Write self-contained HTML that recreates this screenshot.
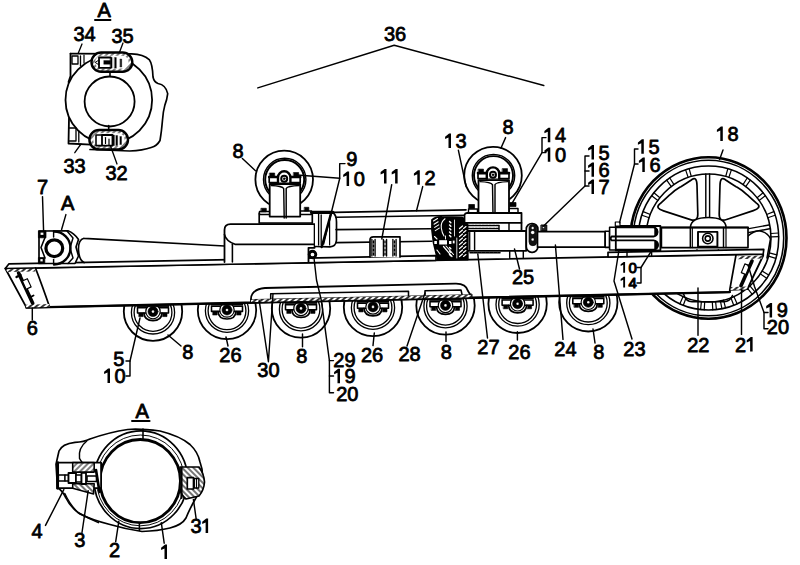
<!DOCTYPE html>
<html><head><meta charset="utf-8"><style>
html,body{margin:0;padding:0;background:#fff;}
svg{display:block;}
text{font-family:"Liberation Sans",sans-serif;font-weight:normal;fill:#000;stroke:#000;stroke-width:0.8px;}
</style></head><body>
<svg width="800" height="565" viewBox="0 0 800 565" stroke="#000" fill="none" stroke-linecap="round" stroke-linejoin="round">
<defs>
<pattern id="hatch" patternUnits="userSpaceOnUse" width="4" height="4" patternTransform="rotate(45)"><rect width="4" height="4" fill="#fff" stroke="none"/><line x1="2" y1="0" x2="2" y2="4" stroke="#000" stroke-width="1"/></pattern>
<pattern id="hatchb" patternUnits="userSpaceOnUse" width="4" height="4" patternTransform="rotate(-45)"><rect width="4" height="4" fill="#fff" stroke="none"/><line x1="2" y1="0" x2="2" y2="4" stroke="#000" stroke-width="1.1"/></pattern>
<pattern id="hatch2" patternUnits="userSpaceOnUse" width="3" height="3" patternTransform="rotate(45)"><rect width="3" height="3" fill="#fff" stroke="none"/><line x1="1.5" y1="0" x2="1.5" y2="3" stroke="#000" stroke-width="1.6"/></pattern>
<pattern id="hatch3" patternUnits="userSpaceOnUse" width="3.2" height="3.2" patternTransform="rotate(45)"><rect width="3.2" height="3.2" fill="#000" stroke="none"/><line x1="1.6" y1="0" x2="1.6" y2="3.2" stroke="#fff" stroke-width="1.1"/></pattern>
<pattern id="dash" patternUnits="userSpaceOnUse" width="4" height="4" patternTransform="rotate(50)"><rect width="4" height="4" fill="#fff" stroke="none"/><line x1="2" y1="0" x2="2" y2="4" stroke="#000" stroke-width="1.6"/></pattern>
</defs>
<text x="384.00" y="41.4" font-size="20">3</text>
<text x="395.12" y="41.4" font-size="20">6</text>
<polyline points="257.8,87.9 394.2,45.2 543.8,85.5" stroke-width="1.44" fill="none"/>
<text x="97.50" y="17.0" font-size="20">A</text>
<line x1="95.0" y1="20.0" x2="110.5" y2="20.0" stroke-width="1.92"/>
<text x="73.50" y="41.0" font-size="20">3</text>
<text x="84.62" y="41.0" font-size="20">4</text>
<text x="111.50" y="43.0" font-size="20">3</text>
<text x="122.62" y="43.0" font-size="20">5</text>
<line x1="82.0" y1="44.0" x2="77.5" y2="55.0" stroke-width="1.32"/>
<line x1="123.0" y1="43.0" x2="119.0" y2="53.6" stroke-width="1.32"/>
<path d="M70.5,53.6 L131.7,53.8 Q143.4,54.2 149.2,59.6 Q152.5,64 153,77 Q154,82 158,83.5 Q166,85 167.7,93.7 Q167,100 164.8,105.4 Q163,112 162.5,120 Q161.5,132 160,140.5 Q157,146 151.2,147.5 Q143,150.5 129.7,151 L90,149.5" stroke-width="1.68" fill="#fff" />
<circle cx="108.8" cy="100.0" r="43.3" stroke-width="1.80" fill="none"/>
<circle cx="109.6" cy="101.5" r="25.0" stroke-width="1.80" fill="none"/>
<path d="M70.5,53.6 L70.5,76 L68.5,82" stroke-width="1.80" fill="none" />
<path d="M72,56 L78,56 L78,64 L72,64 Z" stroke-width="1.32" fill="none" />
<line x1="80.5" y1="56.0" x2="80.5" y2="66.0" stroke-width="1.32"/>
<line x1="84.0" y1="55.0" x2="84.0" y2="63.0" stroke-width="1.20"/>
<path d="M69,118 L68.5,143.5 L91,144.6" stroke-width="1.80" fill="none" />
<path d="M69.5,128 L76,128 L76,141 L69.5,141" stroke-width="1.32" fill="none" />
<line x1="78.8" y1="131.0" x2="78.8" y2="142.0" stroke-width="1.32"/>
<rect x="91.5" y="52.5" width="40.8" height="19.3" rx="9.6" stroke-width="2.40" fill="url(#hatch)"/>
<rect x="95.3" y="55.8" width="33.2" height="12.7" rx="6.2" fill="#fff" stroke="none"/>
<path d="M110.5,57.5 L99,57.5 L99,67.8 L110.5,67.8" stroke-width="1.80" fill="none" />
<rect x="104.0" y="60.6" width="6.5" height="3.6" rx="0" stroke-width="0.48" fill="#000"/>
<rect x="110.3" y="57.3" width="1.8" height="10.8" rx="0" stroke-width="0.36" fill="#000"/>
<rect x="114.6" y="57.5" width="1.7" height="10.5" rx="0" stroke-width="0.36" fill="#000"/>
<rect x="120.2" y="59.0" width="1.5" height="8.0" rx="0" stroke-width="0.36" fill="#000"/>
<path d="M95.5,62.2 L99,60 L99,64.5 Z" stroke-width="0.96" fill="none" />
<rect x="89.4" y="130.0" width="38.6" height="19.4" rx="9.7" stroke-width="2.40" fill="url(#hatch)"/>
<rect x="93.2" y="133.3" width="31.4" height="12.8" rx="6.2" fill="#fff" stroke="none"/>
<path d="M101.5,135 L96,135 L96,145.6 L101.5,145.6" stroke-width="1.56" fill="none" />
<rect x="102.0" y="135.0" width="10.5" height="10.6" rx="0" stroke-width="1.80" fill="#fff"/>
<rect x="112.8" y="135.0" width="1.6" height="10.6" rx="0" stroke-width="0.36" fill="#000"/>
<rect x="116.0" y="135.5" width="1.6" height="10.0" rx="0" stroke-width="0.36" fill="#000"/>
<rect x="120.0" y="136.5" width="1.5" height="8.0" rx="0" stroke-width="0.36" fill="#000"/>
<line x1="105.5" y1="137.5" x2="105.5" y2="143.5" stroke-width="1.20"/>
<line x1="109.0" y1="139.0" x2="109.0" y2="145.5" stroke-width="1.20"/>
<line x1="110.0" y1="72.0" x2="110.0" y2="76.5" stroke-width="1.56"/>
<line x1="108.7" y1="125.5" x2="108.7" y2="130.0" stroke-width="1.56"/>
<text x="63.50" y="173.2" font-size="20">3</text>
<text x="74.62" y="173.2" font-size="20">3</text>
<text x="105.50" y="180.0" font-size="20">3</text>
<text x="116.62" y="180.0" font-size="20">2</text>
<line x1="74.8" y1="152.7" x2="81.0" y2="144.0" stroke-width="1.32"/>
<line x1="117.0" y1="164.0" x2="110.7" y2="146.5" stroke-width="1.32"/>
<ellipse cx="708.5" cy="238.0" rx="78.0" ry="80.7" stroke-width="2.64" fill="#fff"/>
<ellipse cx="708.5" cy="238.0" rx="75.2" ry="77.8" stroke-width="1.56" fill="none"/>
<ellipse cx="708.5" cy="238.0" rx="70.2" ry="72.0" stroke-width="1.56" fill="none"/>
<ellipse cx="708.5" cy="238.0" rx="62.5" ry="64.0" stroke-width="1.56" fill="none"/>
<line x1="720.4" y1="300.8" x2="721.9" y2="308.7" stroke-width="1.20"/>
<line x1="723.6" y1="300.1" x2="725.5" y2="307.9" stroke-width="1.20"/>
<line x1="701.4" y1="301.6" x2="700.6" y2="309.5" stroke-width="1.20"/>
<line x1="704.7" y1="301.9" x2="704.2" y2="309.9" stroke-width="1.20"/>
<line x1="683.1" y1="296.5" x2="679.9" y2="303.8" stroke-width="1.20"/>
<line x1="686.1" y1="297.7" x2="683.3" y2="305.2" stroke-width="1.20"/>
<line x1="667.1" y1="285.9" x2="662.0" y2="291.9" stroke-width="1.20"/>
<line x1="669.6" y1="288.1" x2="664.8" y2="294.3" stroke-width="1.20"/>
<line x1="654.9" y1="271.0" x2="648.3" y2="275.1" stroke-width="1.20"/>
<line x1="656.7" y1="273.8" x2="650.3" y2="278.3" stroke-width="1.20"/>
<line x1="647.7" y1="252.9" x2="640.2" y2="254.8" stroke-width="1.20"/>
<line x1="648.6" y1="256.2" x2="641.2" y2="258.4" stroke-width="1.20"/>
<line x1="646.2" y1="233.5" x2="638.5" y2="233.0" stroke-width="1.20"/>
<line x1="646.0" y1="236.9" x2="638.3" y2="236.7" stroke-width="1.20"/>
<line x1="650.3" y1="214.5" x2="643.2" y2="211.6" stroke-width="1.20"/>
<line x1="649.2" y1="217.7" x2="641.9" y2="215.2" stroke-width="1.20"/>
<line x1="659.9" y1="197.7" x2="653.9" y2="192.7" stroke-width="1.20"/>
<line x1="657.9" y1="200.4" x2="651.7" y2="195.7" stroke-width="1.20"/>
<line x1="674.0" y1="184.6" x2="669.8" y2="178.0" stroke-width="1.20"/>
<line x1="671.3" y1="186.6" x2="666.7" y2="180.1" stroke-width="1.20"/>
<line x1="691.3" y1="176.5" x2="689.2" y2="168.8" stroke-width="1.20"/>
<line x1="688.2" y1="177.5" x2="685.6" y2="169.9" stroke-width="1.20"/>
<line x1="728.8" y1="177.5" x2="731.4" y2="169.9" stroke-width="1.20"/>
<line x1="725.7" y1="176.5" x2="727.8" y2="168.8" stroke-width="1.20"/>
<line x1="745.7" y1="186.6" x2="750.3" y2="180.1" stroke-width="1.20"/>
<line x1="743.0" y1="184.6" x2="747.2" y2="178.0" stroke-width="1.20"/>
<line x1="759.1" y1="200.4" x2="765.3" y2="195.7" stroke-width="1.20"/>
<line x1="757.1" y1="197.7" x2="763.1" y2="192.7" stroke-width="1.20"/>
<line x1="767.8" y1="217.7" x2="775.1" y2="215.2" stroke-width="1.20"/>
<line x1="766.7" y1="214.5" x2="773.8" y2="211.6" stroke-width="1.20"/>
<line x1="771.0" y1="236.9" x2="778.7" y2="236.7" stroke-width="1.20"/>
<line x1="770.8" y1="233.5" x2="778.5" y2="233.0" stroke-width="1.20"/>
<line x1="768.4" y1="256.2" x2="775.8" y2="258.4" stroke-width="1.20"/>
<line x1="769.3" y1="252.9" x2="776.8" y2="254.8" stroke-width="1.20"/>
<line x1="760.3" y1="273.8" x2="766.7" y2="278.3" stroke-width="1.20"/>
<line x1="762.1" y1="271.0" x2="768.7" y2="275.1" stroke-width="1.20"/>
<line x1="747.4" y1="288.1" x2="752.2" y2="294.3" stroke-width="1.20"/>
<line x1="749.9" y1="285.9" x2="755.0" y2="291.9" stroke-width="1.20"/>
<line x1="730.9" y1="297.7" x2="733.7" y2="305.2" stroke-width="1.20"/>
<line x1="733.9" y1="296.5" x2="737.1" y2="303.8" stroke-width="1.20"/>
<line x1="712.3" y1="301.9" x2="712.8" y2="309.9" stroke-width="1.20"/>
<line x1="715.6" y1="301.6" x2="716.4" y2="309.5" stroke-width="1.20"/>
<line x1="709.6" y1="222.0" x2="709.6" y2="174.0" stroke-width="1.44"/>
<line x1="705.8" y1="222.0" x2="705.8" y2="174.0" stroke-width="1.44"/>
<line x1="692.5" y1="234.0" x2="646.0" y2="227.7" stroke-width="1.44"/>
<line x1="692.0" y1="237.8" x2="645.5" y2="231.4" stroke-width="1.44"/>
<line x1="723.4" y1="237.1" x2="769.6" y2="228.8" stroke-width="1.44"/>
<line x1="722.8" y1="233.4" x2="768.9" y2="225.0" stroke-width="1.44"/>
<line x1="697.0" y1="249.8" x2="669.4" y2="288.7" stroke-width="1.44"/>
<line x1="700.1" y1="252.1" x2="672.5" y2="290.9" stroke-width="1.44"/>
<line x1="715.3" y1="252.1" x2="742.9" y2="290.9" stroke-width="1.44"/>
<line x1="718.4" y1="249.8" x2="746.0" y2="288.7" stroke-width="1.44"/>
<path d="M697.8,214.0 Q698.0,222.0 690.4,219.6 L663.5,210.9 Q654.9,208.2 659.5,204.2 L660.5,203.3 Q665.1,199.3 669.4,195.2 L670.4,194.3 Q674.7,190.3 679.8,187.3 L680.9,186.7 Q686.0,183.7 690.9,180.3 L691.9,179.5 Q696.8,176.2 697.0,185.2 Z" stroke-width="1.68" fill="#fff" />
<path d="M726.6,219.5 Q719.0,222.0 719.2,214.0 L720.0,185.2 Q720.2,176.2 725.1,179.5 L726.1,180.3 Q731.0,183.7 736.1,186.7 L737.2,187.3 Q742.3,190.3 746.6,194.3 L747.6,195.2 Q751.9,199.3 756.4,203.1 L757.4,203.9 Q761.8,207.7 753.3,210.6 Z" stroke-width="1.68" fill="#fff" />
<path d="M748,236 Q754,230.5 760,231 Q768,232.5 770.5,239 L767,258" stroke-width="1.56" fill="#fff" />
<path d="M648,236 Q656,231 664,232" stroke-width="1.44" fill="none" />
<path d="M683.5,294 Q686,301.8 692,301.8 L724,301.8 Q730,301.5 732.5,295.5" stroke-width="1.56" fill="none" />
<path d="M690.5,227 Q691,217.5 708.3,217.5 Q725.5,217.5 726,227" stroke-width="1.56" fill="#fff" />
<circle cx="153.0" cy="311.6" r="29.2" stroke-width="1.80" fill="#fff"/>
<circle cx="153.0" cy="312.4" r="21.6" stroke-width="1.32" fill="none"/>
<circle cx="153.0" cy="312.4" r="18.9" stroke-width="1.32" fill="none"/>
<rect x="137.5" y="307.8" width="31.0" height="5.2" rx="0" stroke-width="1.56" fill="#fff"/>
<rect x="139.0" y="313.0" width="4.2" height="3.6" rx="0" stroke-width="0.60" fill="#000"/>
<rect x="162.8" y="313.0" width="4.2" height="3.6" rx="0" stroke-width="0.60" fill="#000"/>
<path d="M144,313.1 Q144.5,320.6 153,320.6 Q161.5,320.6 162,313.1" stroke-width="1.68" fill="none" />
<circle cx="153.0" cy="311.6" r="7.2" stroke-width="1.20" fill="#fff"/>
<circle cx="153.0" cy="311.6" r="5.0" stroke-width="0.60" fill="#000"/>
<circle cx="153.0" cy="311.6" r="1.3" stroke-width="0.12" fill="#fff"/>
<rect x="137.0" y="305.3" width="32.0" height="1.6" rx="0" stroke-width="0.48" fill="#000"/>
<circle cx="227.0" cy="310.0" r="29.2" stroke-width="1.80" fill="#fff"/>
<circle cx="227.0" cy="310.8" r="21.6" stroke-width="1.32" fill="none"/>
<circle cx="227.0" cy="310.8" r="18.9" stroke-width="1.32" fill="none"/>
<rect x="211.5" y="306.2" width="31.0" height="5.2" rx="0" stroke-width="1.56" fill="#fff"/>
<rect x="213.0" y="311.4" width="4.2" height="3.6" rx="0" stroke-width="0.60" fill="#000"/>
<rect x="236.8" y="311.4" width="4.2" height="3.6" rx="0" stroke-width="0.60" fill="#000"/>
<path d="M218,311.52380000000005 Q218.5,319.02380000000005 227,319.02380000000005 Q235.5,319.02380000000005 236,311.52380000000005" stroke-width="1.68" fill="none" />
<circle cx="227.0" cy="310.0" r="7.2" stroke-width="1.20" fill="#fff"/>
<circle cx="227.0" cy="310.0" r="5.0" stroke-width="0.60" fill="#000"/>
<circle cx="227.0" cy="310.0" r="1.3" stroke-width="0.12" fill="#fff"/>
<rect x="211.0" y="303.7" width="32.0" height="1.6" rx="0" stroke-width="0.48" fill="#000"/>
<circle cx="301.0" cy="308.4" r="29.2" stroke-width="1.80" fill="#fff"/>
<circle cx="301.0" cy="309.2" r="21.6" stroke-width="1.32" fill="none"/>
<circle cx="301.0" cy="309.2" r="18.9" stroke-width="1.32" fill="none"/>
<rect x="285.5" y="304.6" width="31.0" height="5.2" rx="0" stroke-width="1.56" fill="#fff"/>
<rect x="287.0" y="309.8" width="4.2" height="3.6" rx="0" stroke-width="0.60" fill="#000"/>
<rect x="310.8" y="309.8" width="4.2" height="3.6" rx="0" stroke-width="0.60" fill="#000"/>
<path d="M292,309.9476 Q292.5,317.4476 301,317.4476 Q309.5,317.4476 310,309.9476" stroke-width="1.68" fill="none" />
<circle cx="301.0" cy="308.4" r="7.2" stroke-width="1.20" fill="#fff"/>
<circle cx="301.0" cy="308.4" r="5.0" stroke-width="0.60" fill="#000"/>
<circle cx="301.0" cy="308.4" r="1.3" stroke-width="0.12" fill="#fff"/>
<rect x="285.0" y="302.1" width="32.0" height="1.6" rx="0" stroke-width="0.48" fill="#000"/>
<circle cx="373.0" cy="306.9" r="29.2" stroke-width="1.80" fill="#fff"/>
<circle cx="373.0" cy="307.7" r="21.6" stroke-width="1.32" fill="none"/>
<circle cx="373.0" cy="307.7" r="18.9" stroke-width="1.32" fill="none"/>
<rect x="357.5" y="303.1" width="31.0" height="5.2" rx="0" stroke-width="1.56" fill="#fff"/>
<rect x="359.0" y="308.3" width="4.2" height="3.6" rx="0" stroke-width="0.60" fill="#000"/>
<rect x="382.8" y="308.3" width="4.2" height="3.6" rx="0" stroke-width="0.60" fill="#000"/>
<path d="M364,308.41400000000004 Q364.5,315.91400000000004 373,315.91400000000004 Q381.5,315.91400000000004 382,308.41400000000004" stroke-width="1.68" fill="none" />
<circle cx="373.0" cy="306.9" r="7.2" stroke-width="1.20" fill="#fff"/>
<circle cx="373.0" cy="306.9" r="5.0" stroke-width="0.60" fill="#000"/>
<circle cx="373.0" cy="306.9" r="1.3" stroke-width="0.12" fill="#fff"/>
<rect x="357.0" y="300.6" width="32.0" height="1.6" rx="0" stroke-width="0.48" fill="#000"/>
<circle cx="445.5" cy="305.4" r="29.2" stroke-width="1.80" fill="#fff"/>
<circle cx="445.5" cy="306.2" r="21.6" stroke-width="1.32" fill="none"/>
<circle cx="445.5" cy="306.2" r="18.9" stroke-width="1.32" fill="none"/>
<rect x="430.0" y="301.6" width="31.0" height="5.2" rx="0" stroke-width="1.56" fill="#fff"/>
<rect x="431.5" y="306.8" width="4.2" height="3.6" rx="0" stroke-width="0.60" fill="#000"/>
<rect x="455.3" y="306.8" width="4.2" height="3.6" rx="0" stroke-width="0.60" fill="#000"/>
<path d="M436.5,306.86975 Q437.0,314.36975 445.5,314.36975 Q454.0,314.36975 454.5,306.86975" stroke-width="1.68" fill="none" />
<circle cx="445.5" cy="305.4" r="7.2" stroke-width="1.20" fill="#fff"/>
<circle cx="445.5" cy="305.4" r="5.0" stroke-width="0.60" fill="#000"/>
<circle cx="445.5" cy="305.4" r="1.3" stroke-width="0.12" fill="#fff"/>
<rect x="429.5" y="299.1" width="32.0" height="1.6" rx="0" stroke-width="0.48" fill="#000"/>
<circle cx="517.6" cy="303.8" r="29.2" stroke-width="1.80" fill="#fff"/>
<circle cx="517.6" cy="304.6" r="21.6" stroke-width="1.32" fill="none"/>
<circle cx="517.6" cy="304.6" r="18.9" stroke-width="1.32" fill="none"/>
<rect x="502.1" y="300.0" width="31.0" height="5.2" rx="0" stroke-width="1.56" fill="#fff"/>
<rect x="503.6" y="305.2" width="4.2" height="3.6" rx="0" stroke-width="0.60" fill="#000"/>
<rect x="527.4" y="305.2" width="4.2" height="3.6" rx="0" stroke-width="0.60" fill="#000"/>
<path d="M508.6,305.33402 Q509.1,312.83402 517.6,312.83402 Q526.1,312.83402 526.6,305.33402" stroke-width="1.68" fill="none" />
<circle cx="517.6" cy="303.8" r="7.2" stroke-width="1.20" fill="#fff"/>
<circle cx="517.6" cy="303.8" r="5.0" stroke-width="0.60" fill="#000"/>
<circle cx="517.6" cy="303.8" r="1.3" stroke-width="0.12" fill="#fff"/>
<rect x="501.6" y="297.5" width="32.0" height="1.6" rx="0" stroke-width="0.48" fill="#000"/>
<circle cx="588.3" cy="302.3" r="29.2" stroke-width="1.80" fill="#fff"/>
<circle cx="588.3" cy="303.1" r="21.6" stroke-width="1.32" fill="none"/>
<circle cx="588.3" cy="303.1" r="18.9" stroke-width="1.32" fill="none"/>
<rect x="572.8" y="298.5" width="31.0" height="5.2" rx="0" stroke-width="1.56" fill="#fff"/>
<rect x="574.3" y="303.7" width="4.2" height="3.6" rx="0" stroke-width="0.60" fill="#000"/>
<rect x="598.1" y="303.7" width="4.2" height="3.6" rx="0" stroke-width="0.60" fill="#000"/>
<path d="M579.3,303.82811000000004 Q579.8,311.32811000000004 588.3,311.32811000000004 Q596.8,311.32811000000004 597.3,303.82811000000004" stroke-width="1.68" fill="none" />
<circle cx="588.3" cy="302.3" r="7.2" stroke-width="1.20" fill="#fff"/>
<circle cx="588.3" cy="302.3" r="5.0" stroke-width="0.60" fill="#000"/>
<circle cx="588.3" cy="302.3" r="1.3" stroke-width="0.12" fill="#fff"/>
<rect x="572.3" y="296.0" width="32.0" height="1.6" rx="0" stroke-width="0.48" fill="#000"/>
<polygon points="5.3,268.5 763.2,254.0 763.2,255.5 753.0,277.0 747.5,289.2 729.8,289.8 729.8,292.1 26.5,307.6" stroke-width="1.80" fill="#fff"/>
<polygon points="9.0,263.8 436.0,255.7 436.0,260.3 5.3,268.5" stroke-width="1.68" fill="#fff"/>
<polygon points="608.0,252.4 763.8,249.4 763.2,254.0 608.0,257.0" stroke-width="1.68" fill="#fff"/>
<line x1="26.5" y1="307.6" x2="729.8" y2="292.1" stroke-width="2.40"/>
<path d="M35.4,267.918448 Q42,285 49.6,307.08949" stroke-width="1.68" fill="none" />
<polygon points="6,269.28087 35,268.72610000000003 35.5,271.52610000000004 7.3,272.06174000000004" fill="url(#dash)" stroke="none"/>
<polygon points="25,304.63315 50,304.08065000000005 50,307.08065000000005 26.5,307.6" fill="url(#dash)" stroke="none"/>
<line x1="18.6" y1="273.0" x2="32.7" y2="303.2" stroke-width="3.60"/>
<line x1="16.5" y1="277.0" x2="20.5" y2="275.0" stroke-width="2.40"/>
<line x1="29.8" y1="297.5" x2="33.5" y2="295.5" stroke-width="1.92"/>
<rect x="24" y="279.5" width="5.5" height="9" transform="rotate(-25 26.7 284)" fill="#fff" stroke="#000" stroke-width="1.2"/>
<path d="M736,255 L729.8,289.5" stroke-width="1.68" fill="none" />
<polygon points="738,256.2 762.5,255.6 762,258.6 737.5,259.2" fill="url(#dash)" stroke="none"/>
<polygon points="731,287 747.5,286.5 747,289.5 730.5,290" fill="url(#dash)" stroke="none"/>
<line x1="752.0" y1="261.0" x2="741.0" y2="285.7" stroke-width="3.60"/>
<rect x="743" y="264.5" width="5" height="9.5" transform="rotate(22 745.5 269)" fill="#fff" stroke="#000" stroke-width="1.2"/>
<polygon points="251,299.03855 472,294.15445 472,297.75445 251,302.63855" fill="url(#dash)" stroke="#000" stroke-width="1"/>
<path d="M251,299.03855 Q251,289.5 265,288 L455,283.6 Q466,283.2 468,291 L470,294.19865" stroke-width="1.80" fill="#fff" />
<path d="M270.7,298.60318 L270.7,293.8 L408.5,291.2 L408.5,295.5578" stroke-width="1.56" fill="none" />
<path d="M425,295.19315 L425,290.7 L461,290 L462,294.37545" stroke-width="1.56" fill="none" />
<circle cx="284.2" cy="179.5" r="28.8" stroke-width="1.80" fill="#fff"/>
<circle cx="284.7" cy="179.5" r="21.2" stroke-width="1.44" fill="none"/>
<circle cx="284.7" cy="179.5" r="19.5" stroke-width="1.92" fill="none"/>
<rect x="259.2" y="213.0" width="53.1" height="10.0" rx="0" stroke-width="1.68" fill="#fff"/>
<rect x="259.5" y="211.5" width="10.5" height="3.0" rx="0" stroke-width="1.44" fill="#fff"/>
<rect x="300.0" y="211.0" width="11.5" height="3.5" rx="0" stroke-width="1.44" fill="#fff"/>
<rect x="261.3" y="208.3" width="5.0" height="3.5" rx="0" stroke-width="0.72" fill="#000"/>
<rect x="304.6" y="207.3" width="4.2" height="3.7" rx="0" stroke-width="0.72" fill="#000"/>
<path d="M269.7,184.0 L300.2,184.0 L300.2,216.6 L269.7,216.6 Z" stroke-width="1.80" fill="#fff" />
<path d="M271.2,185.5 Q282.2,186.0 283.7,188.5 L284.2,218.1 M299.2,185.5 Q287.2,186.0 286.2,188.5 L286.2,218.1" stroke-width="1.44" fill="none" />
<rect x="269.2" y="177.0" width="31.0" height="5.5" rx="0" stroke-width="1.68" fill="#fff"/>
<rect x="269.7" y="173.0" width="5.0" height="4.2" rx="0" stroke-width="0.60" fill="#000"/>
<rect x="293.7" y="172.5" width="5.0" height="4.2" rx="0" stroke-width="0.60" fill="#000"/>
<line x1="269.2" y1="177.0" x2="300.2" y2="177.0" stroke-width="2.64"/>
<path d="M278.0,182.5 L278.0,177.5 A6.2,6.2 0 0 1 290.4,177.5 L290.4,182.5" stroke-width="2.40" fill="#fff" />
<circle cx="284.2" cy="178.7" r="3.0" stroke-width="1.92" fill="#fff"/>
<circle cx="284.2" cy="178.7" r="1.0" stroke-width="0.60" fill="#000"/>
<circle cx="493.0" cy="175.6" r="28.8" stroke-width="1.80" fill="#fff"/>
<circle cx="493.5" cy="175.6" r="21.2" stroke-width="1.44" fill="none"/>
<circle cx="493.5" cy="175.6" r="19.5" stroke-width="1.92" fill="none"/>
<rect x="468.5" y="209.0" width="9.0" height="4.0" rx="0" stroke-width="1.44" fill="#fff"/>
<rect x="509.0" y="208.5" width="9.0" height="4.5" rx="0" stroke-width="1.44" fill="#fff"/>
<rect x="469.0" y="204.5" width="5.5" height="4.0" rx="0" stroke-width="0.72" fill="#000"/>
<rect x="510.0" y="202.5" width="6.0" height="4.0" rx="0" stroke-width="0.72" fill="#000"/>
<path d="M478.5,180.1 L509,180.1 L509,213.5 L478.5,213.5 Z" stroke-width="1.80" fill="#fff" />
<path d="M480,181.6 Q491,182.1 492.5,184.6 L493,215.0 M508,181.6 Q496,182.1 495,184.6 L495,215.0" stroke-width="1.44" fill="none" />
<rect x="478.0" y="173.1" width="31.0" height="5.5" rx="0" stroke-width="1.68" fill="#fff"/>
<rect x="478.5" y="169.1" width="5.0" height="4.2" rx="0" stroke-width="0.60" fill="#000"/>
<rect x="502.5" y="168.6" width="5.0" height="4.2" rx="0" stroke-width="0.60" fill="#000"/>
<line x1="478.0" y1="173.1" x2="509.0" y2="173.1" stroke-width="2.64"/>
<path d="M486.8,178.6 L486.8,173.6 A6.2,6.2 0 0 1 499.2,173.6 L499.2,178.6" stroke-width="2.40" fill="#fff" />
<circle cx="493.0" cy="174.8" r="3.0" stroke-width="1.92" fill="#fff"/>
<circle cx="493.0" cy="174.8" r="1.0" stroke-width="0.60" fill="#000"/>
<path d="M84,238.3 L224.5,246 M84,238.3 Q78,240 78.5,250 Q79,260 84,262.5" stroke-width="1.68" fill="none" />
<path d="M39,231 L68,230.8 Q74,233 78.5,239.5 L76,247 L78.5,256 L75,263.5 L39,263.5 Z" stroke-width="1.68" fill="#fff" />
<path d="M45,237.5 L41,247.5 L45,258" stroke-width="1.56" fill="none" />
<rect x="38.8" y="230.8" width="7.2" height="7.0" rx="0" stroke-width="0.72" fill="#000"/>
<rect x="40.5" y="232.5" width="3.0" height="2.5" rx="0" stroke-width="0.24" fill="#fff"/>
<rect x="38.8" y="257.5" width="6.0" height="6.0" rx="0" stroke-width="0.72" fill="#000"/>
<rect x="40.3" y="259.0" width="2.5" height="2.5" rx="0" stroke-width="0.24" fill="#fff"/>
<path d="M50,231.5 A16.5,16.5 0 0 1 50,264.5" stroke-width="2.40" fill="none" transform="translate(4,0)"/>
<circle cx="54.3" cy="248.2" r="8.4" stroke-width="3.24" fill="#fff"/>
<line x1="53.6" y1="231.0" x2="53.6" y2="237.0" stroke-width="1.44"/>
<line x1="53.6" y1="259.5" x2="53.6" y2="263.5" stroke-width="1.44"/>
<path d="M67,231 L73,238 L70,248 L73,258 L68,263.5" stroke-width="1.44" fill="none" />
<path d="M224.5,262 L224.5,230 Q224.5,224.1 230.5,224.1 L314.6,224.1 L314.6,247.8 L308.5,247.8 L308.5,262" stroke-width="1.80" fill="#fff" />
<path d="M224.5,234.6 Q226,241 235,244.3 L314.6,244.3" stroke-width="1.68" fill="none" />
<line x1="232.4" y1="244.3" x2="232.4" y2="262.0" stroke-width="1.56"/>
<path d="M315,212.4 L332,212.4 Q336.5,214 336.5,222 L336.5,240 Q336,246.5 330,246.8 L315,246.5" stroke-width="1.68" fill="#fff" />
<line x1="311.5" y1="212.4" x2="333.0" y2="212.4" stroke-width="3.12"/>
<line x1="318.6" y1="214.0" x2="318.6" y2="245.0" stroke-width="1.32"/>
<line x1="321.2" y1="215.0" x2="321.2" y2="245.0" stroke-width="1.32"/>
<line x1="329.6" y1="216.0" x2="329.6" y2="245.0" stroke-width="1.20"/>
<line x1="331.0" y1="213.6" x2="321.7" y2="247.0" stroke-width="2.40"/>
<circle cx="312.5" cy="254.5" r="3.3" stroke-width="2.88" fill="#fff"/>
<line x1="334.0" y1="212.4" x2="466.0" y2="209.8" stroke-width="1.68"/>
<line x1="336.0" y1="217.2" x2="466.0" y2="215.2" stroke-width="1.56"/>
<line x1="336.0" y1="229.6" x2="432.0" y2="228.8" stroke-width="1.56"/>
<line x1="336.0" y1="242.6" x2="432.0" y2="241.3" stroke-width="1.56"/>
<path d="M370,257 L370,240 Q370,236.8 373.5,236.8 L400,236.8 L400,257" stroke-width="1.68" fill="#fff" />
<line x1="371.9" y1="239.5" x2="371.9" y2="256.0" stroke-width="1.32"/>
<line x1="375.1" y1="239.5" x2="375.1" y2="256.0" stroke-width="1.32"/>
<line x1="373.5" y1="241.0" x2="373.5" y2="243.0" stroke-width="1.44"/>
<line x1="373.5" y1="245.0" x2="373.5" y2="247.0" stroke-width="1.44"/>
<line x1="373.5" y1="249.0" x2="373.5" y2="251.0" stroke-width="1.44"/>
<line x1="373.5" y1="253.0" x2="373.5" y2="255.0" stroke-width="1.44"/>
<line x1="383.4" y1="239.5" x2="383.4" y2="256.0" stroke-width="1.32"/>
<line x1="386.6" y1="239.5" x2="386.6" y2="256.0" stroke-width="1.32"/>
<line x1="385.0" y1="241.0" x2="385.0" y2="243.0" stroke-width="1.44"/>
<line x1="385.0" y1="245.0" x2="385.0" y2="247.0" stroke-width="1.44"/>
<line x1="385.0" y1="249.0" x2="385.0" y2="251.0" stroke-width="1.44"/>
<line x1="385.0" y1="253.0" x2="385.0" y2="255.0" stroke-width="1.44"/>
<line x1="392.9" y1="239.5" x2="392.9" y2="256.0" stroke-width="1.32"/>
<line x1="396.1" y1="239.5" x2="396.1" y2="256.0" stroke-width="1.32"/>
<line x1="394.5" y1="241.0" x2="394.5" y2="243.0" stroke-width="1.44"/>
<line x1="394.5" y1="245.0" x2="394.5" y2="247.0" stroke-width="1.44"/>
<line x1="394.5" y1="249.0" x2="394.5" y2="251.0" stroke-width="1.44"/>
<line x1="394.5" y1="253.0" x2="394.5" y2="255.0" stroke-width="1.44"/>
<path d="M432,220 Q436,216.5 442,217 L462,217.3 Q466,220 467.5,224 L467.8,259.6 L438,259.6 Q433,245 432,230 Z" stroke-width="1.80" fill="#000" />
<path d="M445,218.8 Q440.5,222 441.3,228 Q442,233 444,236" stroke-width="1.08" fill="none" stroke="#fff"/>
<line x1="433.5" y1="221.0" x2="437.5" y2="218.5" stroke="#fff" stroke-width="1.08"/>
<line x1="434.1" y1="224.2" x2="438.1" y2="221.7" stroke="#fff" stroke-width="1.08"/>
<line x1="434.7" y1="227.4" x2="438.7" y2="224.9" stroke="#fff" stroke-width="1.08"/>
<line x1="435.3" y1="230.6" x2="439.3" y2="228.1" stroke="#fff" stroke-width="1.08"/>
<line x1="449.6" y1="221.5" x2="450.8" y2="222.7" stroke="#fff" stroke-width="1.56"/>
<line x1="449.6" y1="225.0" x2="450.8" y2="226.2" stroke="#fff" stroke-width="1.56"/>
<line x1="449.6" y1="228.5" x2="450.8" y2="229.7" stroke="#fff" stroke-width="1.56"/>
<line x1="449.6" y1="232.0" x2="450.8" y2="233.2" stroke="#fff" stroke-width="1.56"/>
<line x1="449.6" y1="235.5" x2="450.8" y2="236.7" stroke="#fff" stroke-width="1.56"/>
<line x1="449.6" y1="247.5" x2="450.8" y2="248.7" stroke="#fff" stroke-width="1.56"/>
<line x1="449.6" y1="251.0" x2="450.8" y2="252.2" stroke="#fff" stroke-width="1.56"/>
<line x1="449.6" y1="254.5" x2="450.8" y2="255.7" stroke="#fff" stroke-width="1.56"/>
<line x1="459.5" y1="228.5" x2="462.5" y2="226.0" stroke="#fff" stroke-width="1.20"/>
<line x1="463.5" y1="228.5" x2="466.0" y2="226.5" stroke="#fff" stroke-width="1.08"/>
<line x1="459.5" y1="232.5" x2="462.5" y2="230.0" stroke="#fff" stroke-width="1.20"/>
<line x1="463.5" y1="232.5" x2="466.0" y2="230.5" stroke="#fff" stroke-width="1.08"/>
<line x1="459.5" y1="236.5" x2="462.5" y2="234.0" stroke="#fff" stroke-width="1.20"/>
<line x1="463.5" y1="236.5" x2="466.0" y2="234.5" stroke="#fff" stroke-width="1.08"/>
<line x1="459.5" y1="240.5" x2="462.5" y2="238.0" stroke="#fff" stroke-width="1.20"/>
<line x1="463.5" y1="240.5" x2="466.0" y2="238.5" stroke="#fff" stroke-width="1.08"/>
<line x1="459.5" y1="244.5" x2="462.5" y2="242.0" stroke="#fff" stroke-width="1.20"/>
<line x1="463.5" y1="244.5" x2="466.0" y2="242.5" stroke="#fff" stroke-width="1.08"/>
<line x1="459.5" y1="248.5" x2="462.5" y2="246.0" stroke="#fff" stroke-width="1.20"/>
<line x1="463.5" y1="248.5" x2="466.0" y2="246.5" stroke="#fff" stroke-width="1.08"/>
<line x1="459.5" y1="252.5" x2="462.5" y2="250.0" stroke="#fff" stroke-width="1.20"/>
<line x1="463.5" y1="252.5" x2="466.0" y2="250.5" stroke="#fff" stroke-width="1.08"/>
<line x1="459.5" y1="256.5" x2="462.5" y2="254.0" stroke="#fff" stroke-width="1.20"/>
<line x1="463.5" y1="256.5" x2="466.0" y2="254.5" stroke="#fff" stroke-width="1.08"/>
<line x1="443.5" y1="246.5" x2="452.0" y2="256.5" stroke="#fff" stroke-width="1.20"/>
<line x1="446.0" y1="246.0" x2="453.5" y2="254.5" stroke="#fff" stroke-width="1.08"/>
<line x1="437.0" y1="250.0" x2="440.0" y2="254.0" stroke="#fff" stroke-width="1.08"/>
<line x1="434.5" y1="236.5" x2="437.0" y2="239.0" stroke="#fff" stroke-width="1.08"/>
<line x1="454.5" y1="220.0" x2="454.5" y2="236.0" stroke="#fff" stroke-width="0.84"/>
<line x1="456.8" y1="238.0" x2="456.8" y2="258.0" stroke="#fff" stroke-width="0.84"/>
<line x1="445.5" y1="236.0" x2="445.5" y2="239.0" stroke="#fff" stroke-width="0.96"/>
<rect x="439.2" y="240.2" width="7.8" height="4.3" fill="#fff" stroke="none"/>
<rect x="434.3" y="241" width="2.6" height="3" fill="#fff" stroke="none"/>
<rect x="449" y="241" width="2.4" height="3" fill="#fff" stroke="none"/>
<rect x="452.8" y="240.6" width="1.8" height="2.8" fill="#fff" stroke="none"/>
<path d="M464.5,222.8 L464.5,215 Q465,213 467,213 L521.5,213 L521.5,231" stroke-width="1.80" fill="#fff" />
<line x1="464.5" y1="222.8" x2="521.5" y2="222.8" stroke-width="1.68"/>
<line x1="468" y1="225.4" x2="499" y2="225.4" stroke-width="1.5" stroke-dasharray="2.5 1"/>
<line x1="468" y1="228.4" x2="499" y2="228.4" stroke-width="1.5" stroke-dasharray="2.5 1"/>
<line x1="499.0" y1="225.4" x2="499.0" y2="230.5" stroke-width="1.44"/>
<line x1="509.0" y1="222.8" x2="509.0" y2="231.0" stroke-width="1.44"/>
<rect x="467.8" y="231.0" width="58.4" height="19.8" rx="0" stroke-width="1.80" fill="#fff"/>
<line x1="469.7" y1="232.5" x2="469.7" y2="249.5" stroke-width="1.32"/>
<line x1="474.6" y1="232.5" x2="474.6" y2="249.5" stroke-width="1.44"/>
<line x1="470" y1="252.8" x2="500" y2="252.8" stroke-width="1.6" stroke-dasharray="3 1"/>
<line x1="509.7" y1="250.8" x2="509.7" y2="257.5" stroke-width="1.44"/>
<line x1="523.3" y1="250.8" x2="523.3" y2="257.5" stroke-width="1.44"/>
<rect x="526.3" y="223.5" width="11.6" height="28.8" rx="5.5" stroke-width="1.68" fill="#fff"/>
<rect x="529.0" y="224.2" width="7.8" height="21.5" rx="3.9" stroke-width="0.72" fill="#111"/>
<circle cx="532.7" cy="228.0" r="1.2" stroke-width="0.12" fill="#fff"/>
<circle cx="532.7" cy="232.5" r="1.8" stroke-width="0.12" fill="#fff"/>
<circle cx="532.7" cy="239.5" r="1.3" stroke-width="0.12" fill="#fff"/>
<rect x="541.3" y="225.0" width="5.5" height="6.0" rx="0" stroke-width="0.96" fill="#222"/>
<circle cx="543.5" cy="227.5" r="0.8" stroke-width="0.12" fill="#fff"/>
<rect x="537.5" y="231.7" width="67.7" height="15.5" rx="0" stroke-width="1.68" fill="#fff"/>
<rect x="605.2" y="231.2" width="4.4" height="16.2" rx="0" stroke-width="1.56" fill="#fff"/>
<rect x="609.6" y="227.2" width="6.2" height="22.8" rx="0" stroke-width="1.56" fill="#fff"/>
<rect x="615.8" y="226.0" width="44.6" height="24.4" rx="0" stroke-width="1.80" fill="#fff"/>
<path d="M616,227.4 L653.5,227.4 A4.6,4.6 0 0 1 653.5,236.5 L611.5,236.5 Q609.8,238.5 611.5,240.4 L653.5,240.4 A4.6,4.6 0 0 1 653.5,249.6 L616,249.6" stroke-width="1.80" fill="none" />
<path d="M655,228.5 A3.6,3.6 0 0 1 655,235.4 Z" stroke-width="1.44" fill="#000" />
<path d="M655,241.5 A3.6,3.6 0 0 1 655,248.5 Z" stroke-width="1.44" fill="#000" />
<rect x="615.3" y="222.0" width="4.7" height="4.0" rx="0" stroke-width="1.20" fill="#fff"/>
<line x1="627.0" y1="252.0" x2="627.0" y2="256.6" stroke-width="1.44"/>
<line x1="651.6" y1="251.5" x2="651.6" y2="256.1" stroke-width="1.44"/>
<rect x="661.4" y="227.5" width="86.6" height="20.1" rx="0" stroke-width="1.68" fill="#fff"/>
<line x1="690.3" y1="227.5" x2="690.3" y2="247.6" stroke-width="1.44"/>
<line x1="692.3" y1="227.5" x2="692.3" y2="247.6" stroke-width="1.20"/>
<line x1="723.5" y1="227.5" x2="723.5" y2="247.6" stroke-width="1.44"/>
<line x1="726.0" y1="227.5" x2="726.0" y2="247.6" stroke-width="1.20"/>
<rect x="698.0" y="231.9" width="19.4" height="14.9" rx="0" stroke-width="1.92" fill="#fff"/>
<circle cx="707.8" cy="238.5" r="5.2" stroke-width="1.56" fill="none"/>
<circle cx="707.8" cy="238.5" r="2.6" stroke-width="1.56" fill="none"/>
<line x1="661.4" y1="227.5" x2="748.0" y2="227.5" stroke-width="2.16"/>
<polyline points="42.5,196.6 43.6,231.6" stroke-width="1.44" fill="none"/>
<polyline points="65.9,214.6 61.6,229.5" stroke-width="1.44" fill="none"/>
<polyline points="32.3,308.0 32.3,320.0" stroke-width="1.44" fill="none"/>
<polyline points="242.4,158.5 255.5,170.8" stroke-width="1.44" fill="none"/>
<polyline points="297.0,175.0 339.7,178.2" stroke-width="1.44" fill="none"/>
<polyline points="345.0,163.6 339.7,163.6 339.7,178.5 323.6,244.0" stroke-width="1.44" fill="none"/>
<polyline points="391.7,184.7 381.8,239.0" stroke-width="1.44" fill="none"/>
<polyline points="422.7,186.6 416.5,210.7" stroke-width="1.44" fill="none"/>
<polyline points="458.4,150.3 466.0,186.0" stroke-width="1.44" fill="none"/>
<polyline points="505.6,137.6 501.0,148.0" stroke-width="1.44" fill="none"/>
<polyline points="546.0,137.6 542.0,137.6 542.0,152.6 511.4,204.4" stroke-width="1.44" fill="none"/>
<polyline points="542.0,152.6 546.0,152.6" stroke-width="1.44" fill="none"/>
<polyline points="589.0,156.0 585.0,156.0 585.0,186.0 543.6,226.0" stroke-width="1.44" fill="none"/>
<polyline points="585.0,171.0 589.0,171.0" stroke-width="1.44" fill="none"/>
<polyline points="585.0,186.0 589.0,186.0" stroke-width="1.44" fill="none"/>
<polyline points="638.0,149.0 634.5,149.0 634.5,164.0 619.5,222.8" stroke-width="1.44" fill="none"/>
<polyline points="634.5,164.0 638.0,164.0" stroke-width="1.44" fill="none"/>
<polyline points="723.0,150.0 719.6,159.5" stroke-width="1.44" fill="none"/>
<polyline points="637.0,267.5 641.0,267.5 641.0,283.0 637.0,283.0" stroke-width="1.44" fill="none"/>
<polyline points="641.0,267.5 652.0,250.0" stroke-width="1.44" fill="none"/>
<polyline points="632.0,339.0 614.0,281.0 619.0,250.0" stroke-width="1.44" fill="none"/>
<polyline points="563.0,339.4 555.4,245.0" stroke-width="1.44" fill="none"/>
<polyline points="519.5,269.0 514.5,249.0" stroke-width="1.44" fill="none"/>
<polyline points="487.5,338.0 477.8,254.0" stroke-width="1.44" fill="none"/>
<polyline points="517.4,340.0 517.4,331.7" stroke-width="1.44" fill="none"/>
<polyline points="446.0,341.4 446.0,332.0" stroke-width="1.44" fill="none"/>
<polyline points="407.0,346.0 425.0,293.0" stroke-width="1.44" fill="none"/>
<polyline points="373.0,345.6 374.3,333.0" stroke-width="1.44" fill="none"/>
<polyline points="333.5,360.6 329.4,360.6 329.4,392.8 333.5,392.8" stroke-width="1.44" fill="none"/>
<polyline points="329.4,376.0 333.5,376.0" stroke-width="1.44" fill="none"/>
<polyline points="329.4,360.6 321.4,300.7 316.5,280.0 314.0,258.0" stroke-width="1.44" fill="none"/>
<polyline points="302.5,346.8 302.5,334.0" stroke-width="1.44" fill="none"/>
<polyline points="259.2,300.7 268.4,361.7 273.0,293.8" stroke-width="1.44" fill="none"/>
<polyline points="228.0,346.0 226.0,337.0" stroke-width="1.44" fill="none"/>
<polyline points="181.0,346.0 168.0,335.0" stroke-width="1.44" fill="none"/>
<polyline points="126.0,361.0 130.0,361.0 130.0,376.0 126.0,376.0" stroke-width="1.44" fill="none"/>
<polyline points="130.0,361.0 140.0,318.0" stroke-width="1.44" fill="none"/>
<polyline points="698.0,288.0 698.0,335.2" stroke-width="1.44" fill="none"/>
<polyline points="741.5,289.7 741.5,334.4" stroke-width="1.44" fill="none"/>
<polyline points="768.0,312.5 764.0,312.5 764.0,328.7 768.0,328.7" stroke-width="1.44" fill="none"/>
<polyline points="764.0,312.5 754.5,286.5 748.0,265.0" stroke-width="1.44" fill="none"/>
<polyline points="595.0,343.0 593.0,329.0" stroke-width="1.44" fill="none"/>
<text x="37.00" y="194.4" font-size="20">7</text>
<text x="61.00" y="210.4" font-size="20">A</text>
<text x="26.80" y="335.0" font-size="20">6</text>
<text x="232.40" y="157.7" font-size="20">8</text>
<text x="346.30" y="166.0" font-size="20">9</text>
<polygon points="346.60,186.00 346.60,175.50 343.20,177.10 343.20,174.70 347.20,171.60 349.10,171.60 349.10,186.00" fill="#000" stroke="none"/>
<text x="353.72" y="186.0" font-size="20">0</text>
<polygon points="384.00,183.40 384.00,172.90 380.60,174.50 380.60,172.10 384.60,169.00 386.50,169.00 386.50,183.40" fill="#000" stroke="none"/>
<polygon points="395.12,183.40 395.12,172.90 391.72,174.50 391.72,172.10 395.72,169.00 397.62,169.00 397.62,183.40" fill="#000" stroke="none"/>
<polygon points="417.30,184.70 417.30,174.20 413.90,175.80 413.90,173.40 417.90,170.30 419.80,170.30 419.80,184.70" fill="#000" stroke="none"/>
<text x="424.42" y="184.7" font-size="20">2</text>
<polygon points="448.50,148.00 448.50,137.50 445.10,139.10 445.10,136.70 449.10,133.60 451.00,133.60 451.00,148.00" fill="#000" stroke="none"/>
<text x="455.62" y="148.0" font-size="20">3</text>
<text x="502.60" y="134.2" font-size="20">8</text>
<polygon points="547.80,142.20 547.80,131.70 544.40,133.30 544.40,130.90 548.40,127.80 550.30,127.80 550.30,142.20" fill="#000" stroke="none"/>
<text x="554.92" y="142.2" font-size="20">4</text>
<polygon points="547.80,161.80 547.80,151.30 544.40,152.90 544.40,150.50 548.40,147.40 550.30,147.40 550.30,161.80" fill="#000" stroke="none"/>
<text x="554.92" y="161.8" font-size="20">0</text>
<polygon points="591.50,159.50 591.50,149.00 588.10,150.60 588.10,148.20 592.10,145.10 594.00,145.10 594.00,159.50" fill="#000" stroke="none"/>
<text x="598.62" y="159.5" font-size="20">5</text>
<polygon points="591.50,176.80 591.50,166.30 588.10,167.90 588.10,165.50 592.10,162.40 594.00,162.40 594.00,176.80" fill="#000" stroke="none"/>
<text x="598.62" y="176.8" font-size="20">6</text>
<polygon points="591.50,194.00 591.50,183.50 588.10,185.10 588.10,182.70 592.10,179.60 594.00,179.60 594.00,194.00" fill="#000" stroke="none"/>
<text x="598.62" y="194.0" font-size="20">7</text>
<polygon points="641.30,153.70 641.30,143.20 637.90,144.80 637.90,142.40 641.90,139.30 643.80,139.30 643.80,153.70" fill="#000" stroke="none"/>
<text x="648.42" y="153.7" font-size="20">5</text>
<polygon points="642.30,172.00 642.30,161.50 638.90,163.10 638.90,160.70 642.90,157.60 644.80,157.60 644.80,172.00" fill="#000" stroke="none"/>
<text x="649.42" y="172.0" font-size="20">6</text>
<polygon points="720.30,141.00 720.30,130.50 716.90,132.10 716.90,129.70 720.90,126.60 722.80,126.60 722.80,141.00" fill="#000" stroke="none"/>
<text x="727.42" y="141.0" font-size="20">8</text>
<polygon points="623.20,272.70 623.20,264.82 620.65,266.02 620.65,264.22 623.65,261.90 625.08,261.90 625.08,272.70" fill="#000" stroke="none"/>
<text x="628.54" y="272.7" font-size="15" style="stroke-width:1.05px">0</text>
<polygon points="623.20,287.60 623.20,279.73 620.65,280.93 620.65,279.12 623.65,276.80 625.08,276.80 625.08,287.60" fill="#000" stroke="none"/>
<text x="628.54" y="287.6" font-size="15" style="stroke-width:1.05px">4</text>
<text x="512.00" y="283.8" font-size="20">2</text>
<text x="523.12" y="283.8" font-size="20">5</text>
<text x="113.30" y="366.0" font-size="20">5</text>
<polygon points="107.50,383.00 107.50,372.50 104.10,374.10 104.10,371.70 108.10,368.60 110.00,368.60 110.00,383.00" fill="#000" stroke="none"/>
<text x="114.62" y="383.0" font-size="20">0</text>
<text x="182.30" y="359.0" font-size="20">8</text>
<text x="219.30" y="362.0" font-size="20">2</text>
<text x="230.42" y="362.0" font-size="20">6</text>
<text x="257.30" y="376.7" font-size="20">3</text>
<text x="268.42" y="376.7" font-size="20">0</text>
<text x="296.30" y="363.0" font-size="20">8</text>
<text x="333.30" y="366.5" font-size="20">2</text>
<text x="344.42" y="366.5" font-size="20">9</text>
<polygon points="337.50,383.20 337.50,372.70 334.10,374.30 334.10,371.90 338.10,368.80 340.00,368.80 340.00,383.20" fill="#000" stroke="none"/>
<text x="344.62" y="383.2" font-size="20">9</text>
<text x="336.20" y="401.0" font-size="20">2</text>
<text x="347.32" y="401.0" font-size="20">0</text>
<text x="361.00" y="362.4" font-size="20">2</text>
<text x="372.12" y="362.4" font-size="20">6</text>
<text x="398.50" y="361.0" font-size="20">2</text>
<text x="409.62" y="361.0" font-size="20">8</text>
<text x="440.70" y="358.6" font-size="20">8</text>
<text x="477.30" y="354.0" font-size="20">2</text>
<text x="488.42" y="354.0" font-size="20">7</text>
<text x="508.30" y="358.6" font-size="20">2</text>
<text x="519.42" y="358.6" font-size="20">6</text>
<text x="554.30" y="355.5" font-size="20">2</text>
<text x="565.42" y="355.5" font-size="20">4</text>
<text x="593.30" y="359.0" font-size="20">8</text>
<text x="623.30" y="355.5" font-size="20">2</text>
<text x="634.42" y="355.5" font-size="20">3</text>
<text x="687.20" y="352.3" font-size="20">2</text>
<text x="698.32" y="352.3" font-size="20">2</text>
<text x="735.00" y="351.5" font-size="20">2</text>
<polygon points="750.12,351.50 750.12,341.00 746.72,342.60 746.72,340.20 750.72,337.10 752.62,337.10 752.62,351.50" fill="#000" stroke="none"/>
<polygon points="769.60,317.40 769.60,306.90 766.20,308.50 766.20,306.10 770.20,303.00 772.10,303.00 772.10,317.40" fill="#000" stroke="none"/>
<text x="776.72" y="317.4" font-size="20">9</text>
<text x="766.80" y="334.4" font-size="20">2</text>
<text x="777.92" y="334.4" font-size="20">0</text>
<text x="135.60" y="417.5" font-size="20">A</text>
<line x1="132.0" y1="421.0" x2="149.6" y2="421.0" stroke-width="1.92"/>
<path d="M59,451 Q62,444 75,442.4 Q84,442 90,439 Q110,432 127.7,429.5 Q140,428.5 160,431 Q180,436 190,444.5 Q198,452 200,462 Q203,470 202.5,478 Q202,488 197,496 Q190,508 186,518 Q182,525 170,528 Q158,531 142,531.5 Q125,529 110,524.5 Q92,520 80,514 Q70,507 66,498 Q62,490 57.5,487.7 L56,464.3 Z" stroke-width="1.68" fill="#fff" />
<path d="M86.8,441 Q78,448 79.5,458.4 Q82,463 84,464" stroke-width="1.44" fill="none" />
<path d="M64.8,493.5 Q70,505 78,512.5 Q88,518 98.4,522.7" stroke-width="1.44" fill="none" />
<ellipse cx="140.8" cy="479.7" rx="46.8" ry="48.9" stroke-width="1.68" fill="#fff"/>
<ellipse cx="140.5" cy="480.4" rx="44.0" ry="45.4" stroke-width="0.96" fill="none"/>
<ellipse cx="140.2" cy="481.1" rx="40.2" ry="41.6" stroke-width="2.76" fill="#fff"/>
<line x1="143.0" y1="429.0" x2="143.0" y2="439.5" stroke-width="1.56"/>
<line x1="139.4" y1="522.7" x2="139.4" y2="530.5" stroke-width="1.56"/>
<rect x="57.6" y="462.6" width="43.5" height="25.6" rx="0" stroke-width="1.80" fill="#fff"/>
<line x1="57.6" y1="462.6" x2="57.6" y2="488.2" stroke-width="2.88"/>
<rect x="72.7" y="462.6" width="21.5" height="9.5" rx="0" stroke-width="1.56" fill="url(#hatch)"/>
<path d="M72.7,483.7 L94.2,483.7 L93.6,494 L72.7,488.2 Z" stroke-width="1.56" fill="url(#hatchb)" />
<rect x="58.5" y="475.0" width="6.5" height="6.0" rx="0" stroke-width="1.32" fill="#fff"/>
<rect x="65.0" y="475.0" width="3.5" height="6.0" rx="0" stroke-width="1.32" fill="#fff"/>
<rect x="68.5" y="473.0" width="7.5" height="10.0" rx="0" stroke-width="1.80" fill="#fff"/>
<rect x="76.0" y="475.0" width="5.5" height="7.0" rx="0" stroke-width="1.56" fill="#fff"/>
<rect x="81.5" y="472.8" width="4.5" height="11.2" rx="0" stroke-width="1.80" fill="#fff"/>
<rect x="87.0" y="476.0" width="9.5" height="5.5" rx="0" stroke-width="1.56" fill="#fff"/>
<line x1="96.0" y1="470.0" x2="99.5" y2="492.0" stroke-width="2.64"/>
<path d="M180,467 L199,467 Q204,474 204.5,482 Q204,490 199,496 L186,499 Q181,495 180,489 Z" stroke-width="1.68" fill="url(#hatchb)" />
<rect x="187.3" y="477.6" width="6.2" height="11.4" rx="0" stroke-width="1.68" fill="#fff"/>
<rect x="194.3" y="478.5" width="4.5" height="9.5" rx="0" stroke-width="1.32" fill="#fff"/>
<line x1="196.5" y1="478.5" x2="196.5" y2="488.0" stroke-width="1.20"/>
<line x1="181.5" y1="468.0" x2="181.5" y2="498.0" stroke-width="2.16"/>
<text x="31.50" y="537.6" font-size="20">4</text>
<text x="74.30" y="546.8" font-size="20">3</text>
<text x="108.90" y="557.0" font-size="20">2</text>
<polygon points="164.50,559.00 164.50,548.50 161.10,550.10 161.10,547.70 165.10,544.60 167.00,544.60 167.00,559.00" fill="#000" stroke="none"/>
<text x="190.50" y="533.0" font-size="20">3</text>
<polygon points="205.62,533.00 205.62,522.50 202.22,524.10 202.22,521.70 206.22,518.60 208.12,518.60 208.12,533.00" fill="#000" stroke="none"/>
<polyline points="45.5,525.4 63.8,489.7" stroke-width="1.44" fill="none"/>
<polyline points="82.0,532.5 88.2,490.7" stroke-width="1.44" fill="none"/>
<polyline points="115.7,541.7 118.8,521.3" stroke-width="1.44" fill="none"/>
<polyline points="164.2,543.2 161.3,522.7" stroke-width="1.44" fill="none"/>
<polyline points="196.3,519.8 193.4,499.4" stroke-width="1.44" fill="none"/>
</svg></body></html>
